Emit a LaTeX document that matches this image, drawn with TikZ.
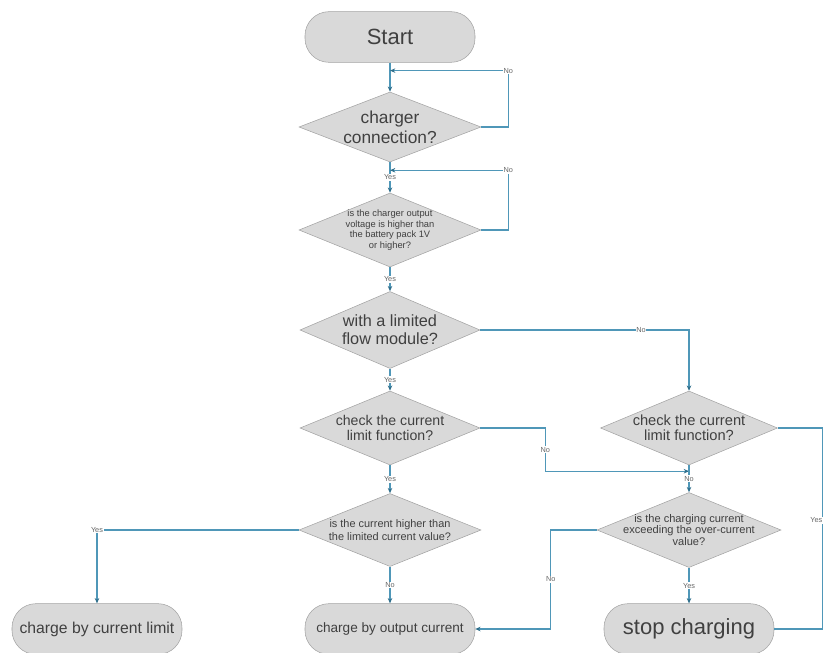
\documentclass[tikz,border=0pt]{standalone}
\usepackage{fontspec}
\setmainfont{Liberation Sans}
\usepackage{xcolor}
\usetikzlibrary{positioning,arrows.meta,shapes.geometric,calc}
\definecolor{flowblue}{HTML}{4F97B8}
\definecolor{tipblue}{HTML}{2F6F8C}
\definecolor{boxgray}{HTML}{D9D9D9}
\definecolor{edgegray}{HTML}{A3A3A3}
\definecolor{txtgray}{HTML}{404040}

\begin{document}
\begin{tikzpicture}[
  on grid, text=txtgray, >={Stealth[length=4pt,width=3.4pt,color=tipblue]},
  term/.style={draw=edgegray,fill=boxgray,rounded corners=18pt,minimum width=127.5pt,minimum height=38pt,inner sep=0pt},
  dec/.style={diamond,draw=edgegray,fill=boxgray,inner sep=0pt,minimum width=136.5pt,minimum height=55.5pt},
  dtxt/.style={align=center,inner sep=0pt},
  lbl/.style={fill=white,inner sep=0.6pt,text=black!60,font=\fontsize{5.5}{6}\selectfont},
  flow/.style={draw=flowblue,line width=1pt}
]
\useasboundingbox (-292.5pt,27.75pt) rectangle (324.75pt,-461.25pt);
\clip (-292.5pt,27.75pt) rectangle (324.75pt,-461.25pt);

\node[term,font=\fontsize{16.5}{18}\selectfont] (start) {Start};
\node[dec,below=67.5pt of start,minimum height=52.5pt,
  label={[dtxt,font=\fontsize{13}{15}\selectfont]center:charger\\connection?}] (conn) {};
\node[dec,below=77.25pt of conn,
  label={[dtxt,font=\fontsize{7}{8}\selectfont]center:is the charger output\\voltage is higher than\\the battery pack 1V\\or higher?}] (volt) {};
\node[dec,below=75pt of volt,minimum width=135pt,minimum height=57.75pt,
  label={[dtxt,font=\fontsize{12.2}{13.5}\selectfont]center:with a limited\\flow module?}] (flowm) {};
\node[dec,below=73.5pt of flowm,minimum width=135pt,
  label={[dtxt,font=\fontsize{10.6}{11.3}\selectfont]center:check the current\\limit function?}] (chk) {};
\node[dec,right=224.25pt of chk,minimum width=132.75pt,
  label={[dtxt,font=\fontsize{11}{11.3}\selectfont]center:check the current\\limit function?}] (rchk) {};
\node[dec,below=76.5pt of chk,minimum height=54.75pt,
  label={[dtxt,font=\fontsize{8.2}{9.8}\selectfont]center:is the current higher than\\the limited current value?}] (hi) {};
\node[dec,below=76.5pt of rchk,minimum width=138pt,minimum height=56.25pt,
  label={[dtxt,font=\fontsize{8.3}{8.8}\selectfont]center:is the charging current\\exceeding the over-current\\value?}] (over) {};
\node[term,below=74.25pt of hi,font=\fontsize{10.2}{12}\selectfont] (outc) {charge by output current};
\node[term,left=219.75pt of outc,font=\fontsize{11.8}{13}\selectfont] (limc) {charge by current limit};
\node[term,below=74.25pt of over,font=\fontsize{16.5}{18}\selectfont] (stop) {stop charging};

\coordinate[below=6pt of start.south] (j1);
\coordinate[below=6pt of conn.south] (j2);
\coordinate[above=15.75pt of over.north] (j3);

\draw[flow,->] (start.south) -- (conn.north);
\draw[flow,->] (conn.east) -- ++(20.25pt,0) |- node[lbl,pos=0.5] {No} (j1);
\draw[flow,->] (conn.south) -- node[lbl] {Yes} (volt.north);
\draw[flow,->] (volt.east) -- ++(20.25pt,0) |- node[lbl,pos=0.5] {No} (j2);
\draw[flow,->] (volt.south) -- node[lbl] {Yes} (flowm.north);
\draw[flow,->] (flowm.east) -| node[lbl,pos=0.385] {No} (rchk.north);
\draw[flow,->] (flowm.south) -- node[lbl] {Yes} (chk.north);
\draw[flow,->] (chk.east) -- ++(48.75pt,0) |- node[lbl,pos=0.25] {No} (j3);
\draw[flow,->] (rchk.south) -- node[lbl] {No} (over.north);
\draw[flow,->] (chk.south) -- node[lbl] {Yes} (hi.north);
\draw[flow,->] (hi.west) -| node[lbl,pos=0.5] {Yes} (limc.north);
\draw[flow,->] (hi.south) -- node[lbl] {No} (outc.north);
\draw[flow,->] (over.west) -- ++(-34.5pt,0) |- node[lbl,pos=0.25] {No} (outc.east);
\draw[flow,->] (over.south) -- node[lbl] {Yes} (stop.north);
\draw[flow] (rchk.east) -- ++(33.5pt,0) |- node[lbl,pos=0.23,anchor=east,xshift=1pt] {Yes} (stop.east);
\end{tikzpicture}
\end{document}
